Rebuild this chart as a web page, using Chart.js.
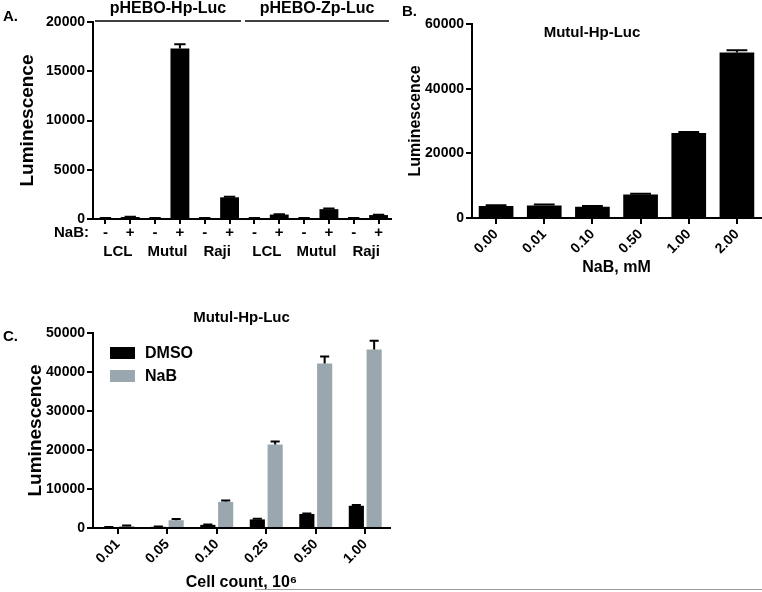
<!DOCTYPE html>
<html><head><meta charset="utf-8">
<script src="https://cdn.jsdelivr.net/npm/chart.js@4.4.1/dist/chart.umd.min.js"></script>
<style>
html,body{margin:0;padding:0;background:#fff;width:762px;height:592px;overflow:hidden;position:relative;}
.box{position:absolute;}
.lbl{position:absolute;font:bold 15px "Liberation Sans",Arial,sans-serif;color:#000;line-height:15px;}
</style></head><body>
<div class="box" style="left:0;top:0;width:400px;height:275px"><canvas id="cA" width="400" height="275"></canvas></div>
<div class="box" style="left:400px;top:0;width:362px;height:280px"><canvas id="cB" width="362" height="280"></canvas></div>
<div class="box" style="left:0;top:300px;width:400px;height:292px"><canvas id="cC" width="400" height="292"></canvas></div>
<div class="lbl" style="left:3px;top:8px">A.</div>
<div class="lbl" style="left:402px;top:3px">B.</div>
<div class="lbl" style="left:3px;top:328px">C.</div>
<div class="box" style="left:255px;top:589px;width:507px;height:1px;background:#9a9a9a"></div>
<script>
// ---------- Panel A data ----------
const aCellLines = ['LCL','Mutul','Raji','LCL','Mutul','Raji'];
const aNaB = ['-','+','-','+','-','+','-','+','-','+','-','+'];
const aValues = [80,200,80,17300,80,2200,80,450,80,1000,70,400];
const aErrors = [20,40,20,450,20,60,20,40,20,60,20,40];
const aGroups = ['pHEBO-Hp-Luc','pHEBO-Zp-Luc'];
const aTicks = [0,5000,10000,15000,20000];

// ---------- Panel B data ----------
const bDoses = ['0.00','0.01','0.10','0.50','1.00','2.00'];
const bValues = [3700,3900,3500,7300,26300,51200];
const bErrors = [250,250,250,200,300,700];
const bTicks = [0,20000,40000,60000];

// ---------- Panel C data ----------
const cCounts = ['0.01','0.05','0.10','0.25','0.50','1.00'];
const cDMSO = [200,300,800,2200,3600,5700];
const cDMSOErr = [50,60,100,150,150,200];
const cNaB = [500,2000,6700,21400,42200,45800];
const cNaBErr = [150,300,350,800,1800,2200];
const cTicks = [0,10000,20000,30000,40000,50000];

const FONT = '"Liberation Sans", Arial, sans-serif';
Chart.defaults.font.family = FONT;
Chart.defaults.font.weight = 'bold';
Chart.defaults.color = '#000';
Chart.defaults.animation = false;

const errorBars = {
  id: 'errorBars',
  afterDatasetsDraw(chart) {
    const ctx = chart.ctx, y = chart.scales.y;
    chart.data.datasets.forEach((ds, di) => {
      if (!ds.errors) return;
      const meta = chart.getDatasetMeta(di);
      meta.data.forEach((bar, i) => {
        const v = ds.data[i], e = ds.errors[i];
        const y0 = y.getPixelForValue(v), y1 = y.getPixelForValue(v + e);
        const hw = bar.width * 0.3;
        ctx.save();
        ctx.strokeStyle = '#000'; ctx.lineWidth = 2;
        ctx.beginPath();
        ctx.moveTo(bar.x, y0); ctx.lineTo(bar.x, y1);
        ctx.moveTo(bar.x - hw, y1); ctx.lineTo(bar.x + hw, y1);
        ctx.stroke();
        ctx.restore();
      });
    });
  }
};

function yAxis(ticks, max, titleSize, titlePad, width) {
  return {
    min: 0, max: max,
    afterBuildTicks: s => { s.ticks = ticks.map(v => ({value: v})); },
    afterFit: s => { s.width = width; },
    border: {display: true, color: '#000', width: 2},
    grid: {display: true, drawOnChartArea: false, drawTicks: true, tickLength: 6, color: '#000', lineWidth: 2},
    ticks: {font: {size: 14, weight: 'bold'}, padding: 2, color: '#000', callback: v => String(v)},
    title: {display: true, text: 'Luminescence', font: {size: titleSize, weight: 'bold'}, color: '#000', padding: {top: titlePad, bottom: 0}}
  };
}

// ---------- Panel A ----------
const headerPlugin = {
  id: 'headerPlugin',
  afterDraw(chart) {
    const {ctx, chartArea: {left, right, top, bottom}} = chart;
    const x = chart.scales.x;
    const mid = (x.getPixelForValue(5) + x.getPixelForValue(6)) / 2;
    const segs = [[left + 2, mid - 1], [mid + 3, right - 2]];
    ctx.save();
    ctx.strokeStyle = '#000'; ctx.lineWidth = 1.5;
    ctx.font = 'bold 16px ' + FONT;
    ctx.fillStyle = '#000';
    ctx.textAlign = 'center'; ctx.textBaseline = 'alphabetic';
    segs.forEach((s, i) => {
      ctx.beginPath(); ctx.moveTo(s[0], top - 1); ctx.lineTo(s[1], top - 1); ctx.stroke();
      ctx.fillText(aGroups[i], (s[0] + s[1]) / 2, top - 9);
    });
    ctx.textAlign = 'right'; ctx.textBaseline = 'middle';
    ctx.font = 'bold 15px ' + FONT;
    ctx.fillText('NaB:', left - 4, bottom + 14);
    ctx.restore();
  }
};

new Chart(document.getElementById('cA'), {
  type: 'bar',
  data: {
    labels: aNaB,
    datasets: [{data: aValues, errors: aErrors, backgroundColor: '#000', categoryPercentage: 1, barPercentage: 0.76}]
  },
  options: {
    responsive: false,
    layout: {padding: {left: 0, top: 22, right: 9, bottom: 0}},
    plugins: {legend: {display: false}, tooltip: {enabled: false}},
    scales: {
      x: {
        weight: 0,
        afterFit: s => { s.height = 24; },
        border: {display: true, color: '#000', width: 2},
        grid: {display: true, offset: false, drawOnChartArea: false, drawTicks: true, tickLength: 5, color: '#000', lineWidth: 2},
        ticks: {font: {size: 15, weight: 'bold'}, padding: 0, maxRotation: 0, autoSkip: false}
      },
      x2: {
        type: 'category', position: 'bottom', weight: 1,
        labels: aCellLines,
        afterFit: s => { s.height = 32; },
        border: {display: false},
        grid: {display: false, drawTicks: false},
        ticks: {font: {size: 15, weight: 'bold'}, padding: 0, maxRotation: 0, autoSkip: false}
      },
      y: yAxis(aTicks, 20000, 19, 16, 93)
    }
  },
  plugins: [errorBars, headerPlugin]
});

// ---------- Panel B ----------
const titleB = {
  id: 'titleB',
  afterDraw(chart) {
    const {ctx, chartArea: {left, top}} = chart;
    ctx.save();
    ctx.font = 'bold 15px ' + FONT; ctx.fillStyle = '#000';
    ctx.textAlign = 'center'; ctx.textBaseline = 'middle';
    ctx.fillText('Mutul-Hp-Luc', left + 120, top + 9);
    ctx.restore();
  }
};
new Chart(document.getElementById('cB'), {
  type: 'bar',
  data: {
    labels: bDoses,
    datasets: [{data: bValues, errors: bErrors, backgroundColor: '#000', categoryPercentage: 1, barPercentage: 0.72}]
  },
  options: {
    responsive: false,
    layout: {padding: {left: 0, top: 24, right: 1, bottom: 0}},
    plugins: {legend: {display: false}, tooltip: {enabled: false}},
    scales: {
      x: {
        afterFit: s => { s.height = 62; },
        border: {display: true, color: '#000', width: 2},
        grid: {display: true, offset: false, drawOnChartArea: false, drawTicks: true, tickLength: 6, color: '#000', lineWidth: 2},
        ticks: {font: {size: 14, weight: 'bold'}, padding: 2, minRotation: 45, maxRotation: 45, autoSkip: false},
        title: {display: true, text: 'NaB, mM', font: {size: 16, weight: 'bold'}, color: '#000', padding: {top: 0, bottom: 3}}
      },
      y: yAxis(bTicks, 60000, 16, 6, 72)
    }
  },
  plugins: [errorBars, titleB]
});

// ---------- Panel C ----------
const extraC = {
  id: 'extraC',
  afterDraw(chart) {
    const {ctx, chartArea: {left, right, top}} = chart;
    ctx.save();
    ctx.font = 'bold 15px ' + FONT; ctx.fillStyle = '#000';
    ctx.textAlign = 'center'; ctx.textBaseline = 'middle';
    ctx.fillText('Mutul-Hp-Luc', (left + right) / 2, top - 15);
    ctx.font = 'bold 16px ' + FONT;
    ctx.textAlign = 'left';
    chart.data.datasets.forEach((ds, i) => {
      const cy = top + 20 + i * 23;
      ctx.fillStyle = ds.backgroundColor;
      ctx.fillRect(left + 17, cy - 6, 25, 12);
      ctx.fillStyle = '#000';
      ctx.fillText(ds.label, left + 52, cy + 1);
    });
    ctx.restore();
  }
};
new Chart(document.getElementById('cC'), {
  type: 'bar',
  data: {
    labels: cCounts,
    datasets: [
      {label: 'DMSO', data: cDMSO, errors: cDMSOErr, backgroundColor: '#000000', categoryPercentage: 0.72, barPercentage: 0.85},
      {label: 'NaB', data: cNaB, errors: cNaBErr, backgroundColor: '#9ba7ae', categoryPercentage: 0.72, barPercentage: 0.85}
    ]
  },
  options: {
    responsive: false,
    layout: {padding: {left: 0, top: 33, right: 10, bottom: 0}},
    plugins: {legend: {display: false}, tooltip: {enabled: false}},
    scales: {
      x: {
        afterFit: s => { s.height = 64; },
        border: {display: true, color: '#000', width: 2},
        grid: {display: true, offset: false, drawOnChartArea: false, drawTicks: true, tickLength: 6, color: '#000', lineWidth: 2},
        ticks: {font: {size: 14, weight: 'bold'}, padding: 2, minRotation: 45, maxRotation: 45, autoSkip: false},
        title: {display: true, text: 'Cell count, 10\u2076', font: {size: 16, weight: 'bold'}, color: '#000', padding: {top: 0, bottom: 0}}
      },
      y: yAxis(cTicks, 50000, 19, 24, 93)
    }
  },
  plugins: [errorBars, extraC]
});
</script>
</body></html>
